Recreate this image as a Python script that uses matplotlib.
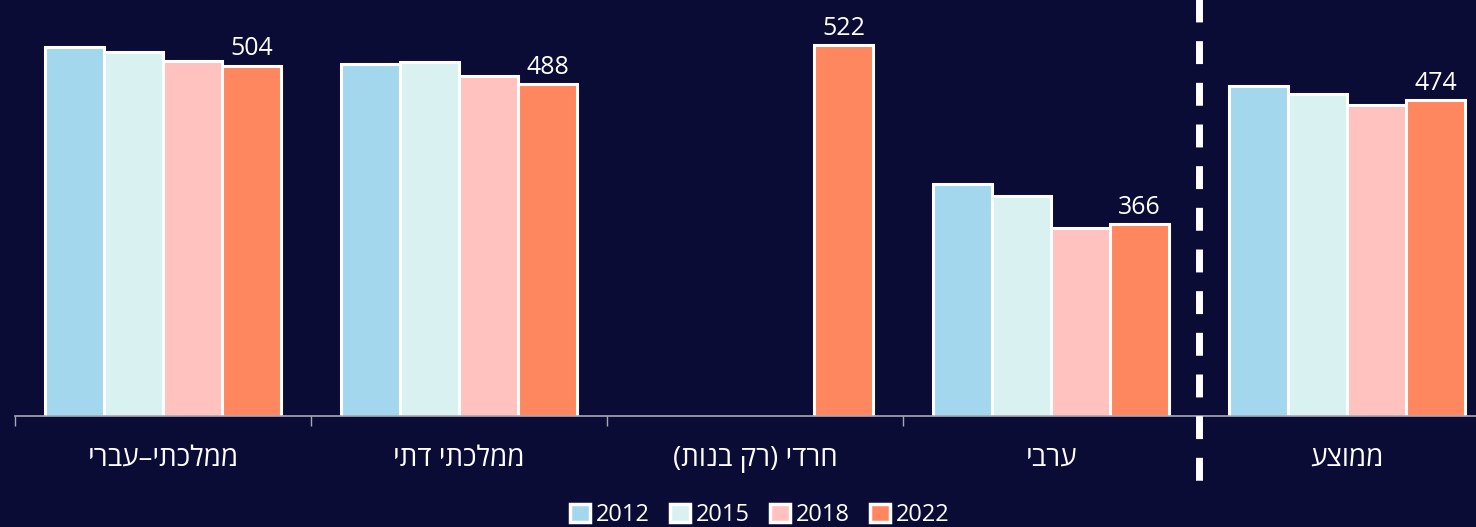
import numpy as np
import matplotlib.pyplot as plt

# ---- data ----
categories = ["ממלכתי–עברי", "ממלכתי דתי", "חרדי (רק בנות)", "ערבי", "ממוצע"]
years = ["2012", "2015", "2018", "2022"]
scores_2012 = [520, 505, np.nan, 401, 486]
scores_2015 = [516, 507, np.nan, 391, 479]
scores_2018 = [508, 495, np.nan, 363, 470]
scores_2022 = [504, 488, 522, 366, 474]
colors = ["#a3d7ed", "#d9f1f1", "#ffc2be", "#fe875f"]

bg = "#0b0c36"
plt.rcParams['font.family'] = ['Open Sans', 'DejaVu Sans']


def visual(s):
    # matplotlib has no bidi, so flip the hebrew by hand
    swap = {"(": ")", ")": "("}
    return "".join(swap.get(c, c) for c in s[::-1])


fig = plt.figure(figsize=(14.76, 5.27), dpi=100, facecolor=bg)
ax = fig.add_axes([15 / 1476, 111.5 / 527, 1480 / 1476, 415.5 / 527])
ax.set_facecolor(bg)

x = np.arange(len(categories))
width = 0.2
series = [scores_2012, scores_2015, scores_2018, scores_2022]
containers = []
for i, vals in enumerate(series):
    c = ax.bar(x + (i - 1.5) * width, vals, width, color=colors[i],
               edgecolor="white", linewidth=2.2, label=years[i], zorder=2)
    containers.append(c)

ax.bar_label(containers[-1], fmt="%d", padding=3, color="white", fontsize=18)

ax.set_xlim(-0.5, 4.5)
ax.set_ylim(200, 561)

for s in ["top", "left", "right"]:
    ax.spines[s].set_visible(False)
ax.spines["bottom"].set_color("#a8a8b4")
ax.spines["bottom"].set_linewidth(1.2)
ax.set_yticks([])

ax.set_xticks(np.arange(-0.5, 4.0, 1.0))
ax.set_xticklabels([])
ax.tick_params(axis="x", which="major", length=7.5, width=1, color="#a8a8b4")
ax.set_xticks(x, minor=True)
ax.set_xticklabels([visual(c) for c in categories], minor=True,
                   color="white", fontsize=20)
ax.tick_params(axis="x", which="minor", length=0, pad=21)

# dashed separator before the average group
ax.axvline(3.5, ymin=1.0096, ymax=-0.167, color="white", linewidth=5,
           linestyle=(0, (3.3, 2.7)), clip_on=False, zorder=3)

leg = ax.legend(loc="center", bbox_to_anchor=(0.503, -0.24), ncol=4,
                frameon=False, fontsize=17, handlelength=0.85,
                handleheight=0.85, handletextpad=0.25, columnspacing=0.85)
for t in leg.get_texts():
    t.set_color("white")
for h in leg.legend_handles:
    h.set_linewidth(2.5)

fig.savefig("out.png", dpi=100, facecolor=bg)
